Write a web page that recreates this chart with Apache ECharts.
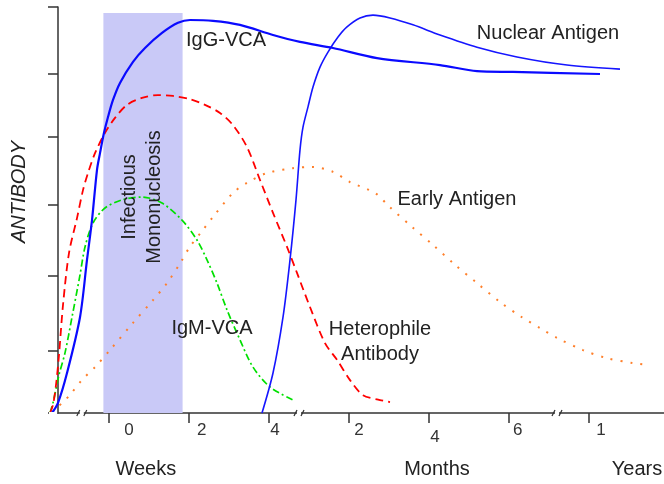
<!DOCTYPE html>
<html><head><meta charset="utf-8">
<script src="https://cdn.jsdelivr.net/npm/echarts@6/dist/echarts.min.js"></script>
<style>html,body{margin:0;padding:0;background:#fff}#c{width:664px;height:484px}</style>
</head><body><div id="c"></div>
<script>
// x unit: one tick step (2 weeks / 2 months / 1 year segments), y: relative antibody level 0-100
const xTickAt = [0, 1, 2, 3, 4, 5, 6];
const xTickLabels = ['0', '2', '4', '2', '4', '6', '1'];
const xLabelAt = [0.25, 1.16, 2.075, 3.125, 4.075, 5.11, 6.15];
const unitLabels = ['Weeks', 'Months', 'Years'];
const unitLabelAt = [0.46, 4.1, 6.6];
const yTickLevels = [0, 15.3, 33.7, 51.2, 68, 83.5, 100];
const breakAt = [-0.34, 2.375, 5.6];
const monoSpan = [-0.07, 0.92];

const igG_VCA = [[-0.7125,0],[-0.6375,2.5],[-0.525,9.85],[-0.3625,23.6],[-0.275,37.7],[-0.2125,47.5],[-0.15,59.9],[-0.1125,64.0],[-0.0625,69.0],[-0.0125,72.9],[0.05,77.1],[0.1375,81.3],[0.3,86.5],[0.45,89.9],[0.6625,93.6],[0.8625,96.1],[1.0125,96.8],[1.3,96.6],[1.6375,95.6],[2.05,93.1],[2.3875,91.4],[2.8,89.9],[3.35,87.4],[4.1375,85.7],[4.6,84.2],[5.05,84.0],[6.1375,83.5]];
const nuclearAntigen = [[1.9125,0],[2.05,9.85],[2.175,23.6],[2.2625,37.7],[2.3375,52.5],[2.3875,64.8],[2.425,70.4],[2.4875,75.4],[2.55,80.3],[2.6375,85.2],[2.7375,88.9],[2.8625,92.6],[2.975,95.1],[3.1375,97.3],[3.3,98.0],[3.5125,97.3],[3.8,95.6],[4.1375,93.1],[4.6,90.1],[5.1,87.7],[5.725,85.7],[6.3875,84.7]];
const heterophile = [[-0.7375,0],[-0.7,2.0],[-0.6625,6.9],[-0.625,14.3],[-0.575,26.6],[-0.5,39.4],[-0.4,48.0],[-0.325,54.9],[-0.2625,59.1],[-0.175,64.0],[-0.05,69.0],[0.075,72.7],[0.225,75.9],[0.4125,77.6],[0.6125,78.3],[0.8,78.1],[1.0125,77.3],[1.2,75.9],[1.3875,73.9],[1.55,70.9],[1.725,65.5],[1.8875,57.4],[2.05,49.3],[2.225,40.9],[2.35,34.5],[2.5125,26.1],[2.7,17.2],[2.85,13.1],[3.0125,8.1],[3.175,4.4],[3.3875,3.2],[3.5125,2.7]];
const igM_VCA = [[-0.7375,0],[-0.7,2.5],[-0.625,9.4],[-0.55,14.8],[-0.4625,23.6],[-0.3625,34.0],[-0.3,40.9],[-0.2,46.8],[-0.05,50.5],[0.1625,52.5],[0.4125,53.2],[0.6625,51.7],[0.9125,47.5],[1.1,42.6],[1.225,37.7],[1.35,32.0],[1.475,25.4],[1.6375,18.0],[1.8,11.3],[2.0125,6.4],[2.3,3.2]];
const earlyAntigen = [[-0.71,0.2],[-0.575,2.7],[-0.49,4.4],[-0.34,8.1],[-0.175,11.3],[0.0125,15.5],[0.3,22.2],[0.55,27.8],[0.725,32.0],[0.89,36.9],[1.01,40.9],[1.175,45.1],[1.3,48.3],[1.55,54.2],[1.725,56.7],[1.975,59.1],[2.3,60.3],[2.54,60.6],[2.8,59.4],[3.01,56.9],[3.325,54.2],[3.51,50.7],[3.79,45.8],[4.05,41.4],[4.325,36.5],[4.6,32.0],[4.89,27.3],[5.16,23.6],[5.39,20.9],[5.6,18.5],[5.925,15.5],[6.225,13.5],[6.55,12.3],[6.76,11.8]];

const FONT = 'Liberation Sans, Arial, Helvetica, sans-serif';
const TXT = '#222';
const chart = echarts.init(document.getElementById('c'), null, {renderer: 'canvas'});

function line(name, data, color, width, type, z) {
  return {name, type: 'line', data, showSymbol: false, smooth: 0.3, clip: false, z,
    lineStyle: {color, width, type, cap: 'butt'}, silent: true, animation: false};
}

const XMIN = -0.7375, XMAX = 6.9375;
const option = {
  animation: false,
  backgroundColor: '#fff',
  grid: {left: 50, right: 0, top: 7, bottom: 71, containLabel: false, outerBoundsMode: 'none'},
  xAxis: [{
    type: 'value', min: XMIN, max: XMAX,
    axisLine: {show: true, onZero: false, lineStyle: {color: '#333', width: 1.5}},
    axisTick: {show: true, inside: false, length: 10, customValues: xTickAt, lineStyle: {color: '#333', width: 1.5}},
    axisLabel: {show: true, customValues: xLabelAt, margin: 9, color: '#333', fontFamily: FONT, fontSize: 17,
      formatter: v => { const i = xLabelAt.findIndex(p => Math.abs(p - v) < 1e-6); return i === 4 ? '{low|' + xTickLabels[i] + '}' : xTickLabels[i]; },
      rich: {low: {padding: [7, 0, 0, 0], fontSize: 17, color: '#333', fontFamily: FONT}}},
    splitLine: {show: false}
  }, {
    type: 'value', min: XMIN, max: XMAX, position: 'bottom', offset: 0,
    axisLine: {show: false, onZero: false}, axisTick: {show: false}, splitLine: {show: false},
    axisLabel: {show: true, customValues: unitLabelAt, margin: 46, color: TXT, fontFamily: FONT, fontSize: 20,
      formatter: v => unitLabels[unitLabelAt.findIndex(p => Math.abs(p - v) < 1e-6)]}
  }],
  yAxis: {
    type: 'value', min: 0, max: 100, offset: -8,
    name: 'ANTIBODY', nameLocation: 'middle', nameRotate: 90, nameGap: 29,
    nameTextStyle: {fontFamily: FONT, fontSize: 20, fontStyle: 'italic', color: TXT, padding: [0, 0, 0, 36]},
    axisLine: {show: true, onZero: false, lineStyle: {color: '#333', width: 1.5}},
    axisTick: {show: true, length: 10, customValues: yTickLevels, lineStyle: {color: '#333', width: 1.5}},
    axisLabel: {show: false}, splitLine: {show: false}
  },
  series: [
    {type: 'line', data: [], z: 1, silent: true,
      markArea: {silent: true, itemStyle: {color: '#c9c9f7'},
        data: [[{xAxis: monoSpan[0], yAxis: -0.9}, {xAxis: monoSpan[1], yAxis: 98.5}]]}},
    line('Early Antigen', earlyAntigen, '#ff7f2a', 2, [2, 8], 3),
    line('IgM-VCA', igM_VCA, '#00e000', 1.7, [7, 3, 2, 3], 4),
    line('Heterophile Antibody', heterophile, '#ff0000', 1.8, [8, 5], 5),
    line('Nuclear Antigen', nuclearAntigen, '#1515ff', 1.6, 'solid', 6),
    line('IgG-VCA', igG_VCA, '#0a0aff', 2.2, 'solid', 7)
  ]
};
chart.setOption(option);

const yAx = chart.convertToPixel({yAxisIndex: 0}, 0);
const yAxisX = chart.convertToPixel({xAxisIndex: 0}, XMIN) + 8;
const graphics = [];
// hide the stub of x-axis line left of the shifted y axis
graphics.push({type: 'rect', z: 50, shape: {x: yAxisX - 9, y: yAx - 1, width: 8.2, height: 2}, style: {fill: '#fff'}});
breakAt.forEach(b => {
  const px = chart.convertToPixel({xAxisIndex: 0}, b);
  graphics.push({type: 'rect', z: 100, shape: {x: px - 2, y: yAx - 2, width: 4, height: 4}, style: {fill: '#fff'}});
  graphics.push({type: 'line', z: 101, shape: {x1: px - 5, y1: yAx + 3, x2: px - 2, y2: yAx - 3}, style: {stroke: '#333', lineWidth: 1.2}});
  graphics.push({type: 'line', z: 101, shape: {x1: px + 2, y1: yAx + 3, x2: px + 5, y2: yAx - 3}, style: {stroke: '#333', lineWidth: 1.2}});
});
const texts = [
  ['IgG-VCA', 226, 40],
  ['Nuclear Antigen', 548, 33],
  ['Early Antigen', 457, 199],
  ['IgM-VCA', 212, 328],
  ['Heterophile', 380, 329],
  ['Antibody', 380, 354]
];
texts.forEach(t => graphics.push({type: 'text', z: 110, x: t[1], y: t[2],
  style: {text: t[0], fill: TXT, font: '20px ' + FONT, align: 'center', verticalAlign: 'middle'}}));
graphics.push({type: 'text', z: 110, x: 142, y: 197, rotation: Math.PI / 2,
  style: {text: 'Infectious\nMononucleosis', fill: TXT, font: '20px ' + FONT, align: 'center', verticalAlign: 'middle', lineHeight: 25}});
chart.setOption({graphic: graphics});
</script></body></html>
